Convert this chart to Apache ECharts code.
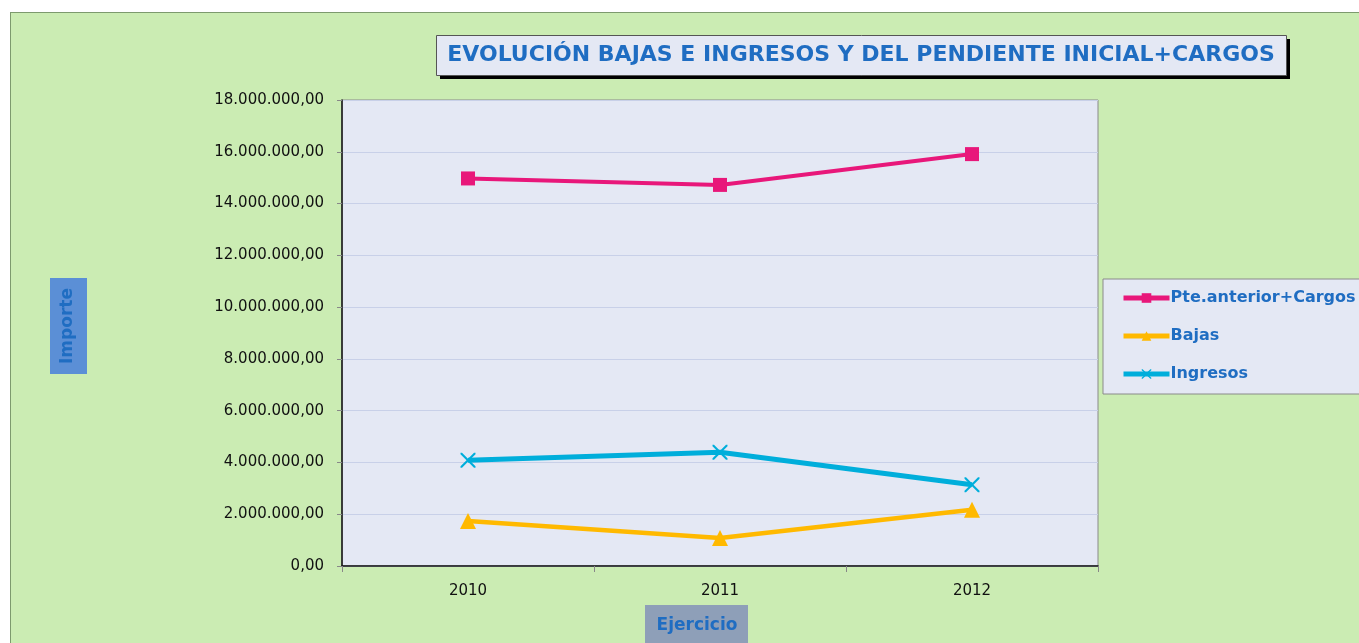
<!DOCTYPE html>
<html>
<head>
<meta charset="utf-8">
<script src="https://cdn.jsdelivr.net/npm/echarts@6/dist/echarts.min.js"></script>
<style>
  html, body { margin: 0; padding: 0; background: #fff; overflow: hidden; }
  .frame { position: absolute; left: 10px; top: 12px; width: 1400px; height: 700px;
           background: #cbecb3; border: 1px solid #7d9a6e; }
  .chart { position: absolute; left: 0; top: 0; width: 1359px; height: 643px; }
</style>
</head>
<body>
<div class="frame"></div>
<div class="chart"></div>
<script>
// datos del gráfico
var ejercicios = ["2010", "2011", "2012"];
var pteCargos = [14970000, 14720000, 15910000];
var bajas = [1740000, 1080000, 2170000];
var ingresos = [4080000, 4390000, 3140000];
var nombres = ["Pte.anterior+Cargos", "Bajas", "Ingresos"];

(() => {
  var myChart = echarts.init(document.querySelector(".chart"));

  var azul = "#1f6dc2";
  var fuente = "DejaVu Sans";
  var aspa = "path://M0,0 L2,0 L10,8 L18,0 L20,0 L20,2 L12,10 L20,18 L20,20 L18,20 L10,12 L2,20 L0,20 L0,18 L8,10 L0,2 Z";

  // 18000000 -> "18.000.000,00"
  function formato(v) {
    return String(Math.round(v)).replace(/\B(?=(\d{3})+(?!\d))/g, ".") + ",00";
  }

  option = {
    animation: false,
    title: {
      text: "EVOLUCIÓN BAJAS E INGRESOS Y DEL PENDIENTE INICIAL+CARGOS",
      left: 861,
      top: 55,
      textAlign: "center",
      textVerticalAlign: "middle",
      padding: 0,
      textStyle: {
        fontFamily: fuente,
        fontWeight: "bold",
        fontSize: 22,
        color: azul
      }
    },
    legend: {
      orient: "vertical",
      left: 1103,
      top: 279,
      padding: [11, 30, 12, 18],
      itemGap: 22,
      itemWidth: 46,
      itemHeight: 12,
      backgroundColor: "#e4e8f4",
      borderColor: "#8a8a8a",
      borderWidth: 1,
      borderRadius: 0,
      lineStyle: { width: 5 },
      textStyle: {
        fontFamily: fuente,
        fontWeight: "bold",
        fontSize: 16,
        color: azul,
        padding: [0, 0, 0, -4]
      },
      data: nombres
    },
    grid: {
      left: 342,
      top: 100,
      width: 756,
      height: 466,
      show: true,
      backgroundColor: "#e4e8f4",
      borderColor: "#8a8a8a",
      borderWidth: 1
    },
    xAxis: {
      type: "category",
      boundaryGap: true,
      data: ejercicios,
      axisLine: { lineStyle: { color: "#111", width: 1.5 } },
      axisTick: { show: true, length: 6, lineStyle: { color: "#888" } },
      axisLabel: {
        margin: 18,
        fontFamily: fuente,
        fontSize: 15,
        color: "#111"
      },
      splitLine: { show: false }
    },
    yAxis: {
      type: "value",
      min: 0,
      max: 18000000,
      interval: 2000000,
      axisLine: { show: true, lineStyle: { color: "#111", width: 1.5 } },
      axisTick: { show: true, length: 5, lineStyle: { color: "#888" } },
      axisLabel: {
        margin: 18,
        fontFamily: fuente,
        fontSize: 15,
        color: "#111",
        formatter: formato
      },
      splitLine: { lineStyle: { color: "#c8d0e8", width: 1 } }
    },
    graphic: [
      {
        type: "rect",
        z: 1,
        shape: { x: 440, y: 39, width: 850, height: 40 },
        style: { fill: "#000" }
      },
      {
        type: "rect",
        z: 2,
        shape: { x: 436.5, y: 35.5, width: 850, height: 40 },
        style: { fill: "#e4e8f4", stroke: "#555", lineWidth: 1 }
      },
      {
        type: "rect",
        shape: { x: 50, y: 278, width: 37, height: 96 },
        style: { fill: "#5b8fd6" }
      },
      {
        type: "text",
        x: 68,
        y: 326,
        rotation: Math.PI / 2,
        style: {
          text: "Importe",
          align: "center",
          verticalAlign: "middle",
          fontFamily: fuente,
          fontWeight: "bold",
          fontSize: 17,
          fill: azul
        }
      },
      {
        type: "rect",
        shape: { x: 645, y: 605, width: 103, height: 40 },
        style: { fill: "#8e9fb8" }
      },
      {
        type: "text",
        x: 697,
        y: 626,
        style: {
          text: "Ejercicio",
          align: "center",
          verticalAlign: "middle",
          fontFamily: fuente,
          fontWeight: "bold",
          fontSize: 17,
          fill: azul
        }
      }
    ],
    series: [
      {
        name: nombres[0],
        type: "line",
        data: pteCargos,
        symbol: "rect",
        symbolSize: 14,
        lineStyle: { color: "#e8177a", width: 4 },
        itemStyle: { color: "#e8177a" }
      },
      {
        name: nombres[1],
        type: "line",
        data: bajas,
        symbol: "triangle",
        symbolSize: 16,
        lineStyle: { color: "#ffb900", width: 4.5 },
        itemStyle: { color: "#ffb900" }
      },
      {
        name: nombres[2],
        type: "line",
        data: ingresos,
        symbol: aspa,
        symbolSize: 15,
        lineStyle: { color: "#00aedb", width: 5 },
        itemStyle: { color: "#00aedb" }
      }
    ]
  };

  myChart.setOption(option);
  window.addEventListener("resize", function() {
    myChart.resize();
  });
})();
</script>
</body>
</html>
